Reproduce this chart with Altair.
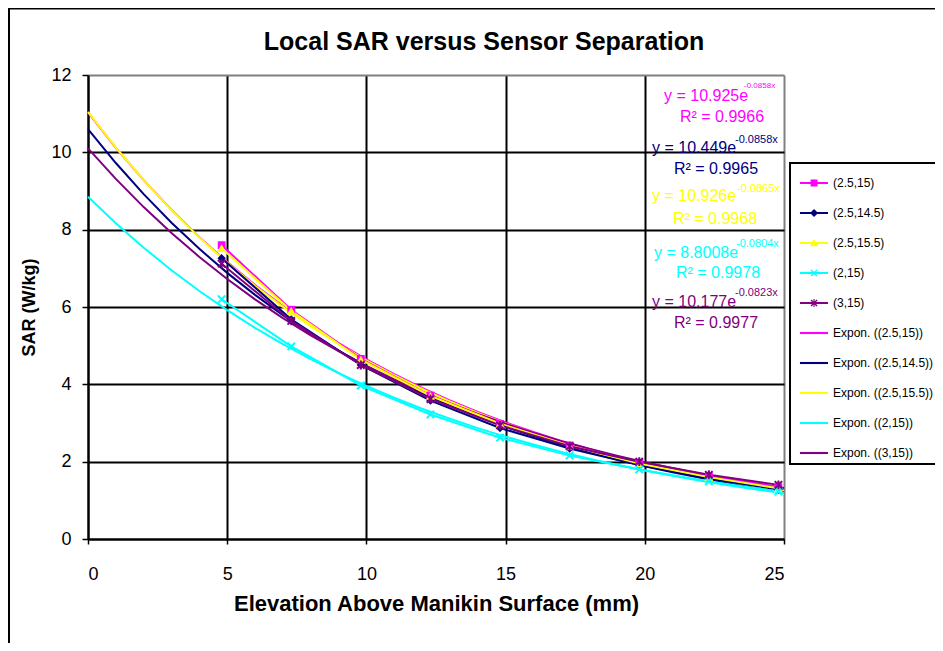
import altair as alt
import pandas as pd

# ---------------- data ----------------
x_mm = [4.8, 7.3, 9.8, 12.3, 14.8, 17.3, 19.8, 22.3, 24.8]
series_names = ["(2.5,15)", "(2.5,14.5)", "(2.5,15.5)", "(2,15)", "(3,15)"]
sar_2_5_15 = [7.60, 5.93, 4.66, 3.71, 2.98, 2.42, 1.97, 1.63, 1.34]
sar_2_5_14_5 = [7.26, 5.68, 4.50, 3.58, 2.87, 2.34, 1.91, 1.56, 1.28]
sar_2_5_15_5 = [7.52, 5.90, 4.64, 3.70, 2.98, 2.41, 1.95, 1.60, 1.31]
sar_2_15 = [6.20, 4.98, 3.97, 3.22, 2.62, 2.16, 1.80, 1.49, 1.23]
sar_3_15 = [7.12, 5.64, 4.50, 3.62, 2.94, 2.40, 2.00, 1.66, 1.40]
trend_names = ["Expon. ((2.5,15))", "Expon. ((2.5,14.5))", "Expon. ((2.5,15.5))",
               "Expon. ((2,15))", "Expon. ((3,15))"]
eq_coef = ["10.925", "10.449", "10.926", "8.8008", "10.177"]
eq_exp = ["-0.0858x", "-0.0858x", "-0.0865x", "-0.0804x", "-0.0823x"]
eq_r2 = ["0.9966", "0.9965", "0.9968", "0.9978", "0.9977"]
x_ticks = [0, 5, 10, 15, 20, 25]
y_ticks = [0, 2, 4, 6, 8, 10, 12]
title_text = "Local SAR versus Sensor Separation"
x_title = "Elevation Above Manikin Surface (mm)"
y_title = "SAR (W/kg)"

# ---------------- styles ----------------
colors = ["#FF00FF", "#000080", "#FFFF00", "#00FFFF", "#800080"]
FONT = "Liberation Sans"
W, H = 696, 464

all_series = [sar_2_5_15, sar_2_5_14_5, sar_2_5_15_5, sar_2_15, sar_3_15]
rows = []
for name, vals in zip(series_names, all_series):
    for xv, yv in zip(x_mm, vals):
        rows.append({"series": name, "x": xv, "sar": yv})
df = pd.DataFrame(rows)

legend_labels = series_names + trend_names
color_scale = alt.Scale(domain=legend_labels, range=colors + colors)

xscale = alt.Scale(domain=[0, 25], nice=False, zero=False)
yscale = alt.Scale(domain=[0, 12], nice=False)
xaxis = alt.Axis(values=x_ticks, title=x_title, labelFontSize=18, labelPadding=21,
                 tickSize=5, tickColor="black", tickWidth=1.5,
                 domainColor="black", domainWidth=2,
                 grid=True, gridWidth=2,
                 gridColor={"condition": {"test": "datum.value === 25", "value": "#808080"}, "value": "#000000"},
                 titleFontSize=22, titleFontWeight="bold", titlePadding=10,
                 labelColor="black", titleColor="black")
yaxis = alt.Axis(values=y_ticks, title=y_title, labelFontSize=18, labelPadding=11,
                 tickSize=6, tickColor="black", tickWidth=1.5,
                 domainColor="black", domainWidth=2,
                 grid=True, gridWidth=2,
                 gridColor={"condition": {"test": "datum.value === 12", "value": "#808080"}, "value": "#000000"},
                 titleFontSize=18, titleFontWeight="bold", titlePadding=12,
                 labelColor="black", titleColor="black")
xenc = alt.X("x:Q", scale=xscale, axis=xaxis)
yenc = alt.Y("sar:Q", scale=yscale, axis=yaxis)
cenc = alt.Color("series:N", scale=color_scale)

dummy = pd.DataFrame({"d": [0]})

frame = alt.Chart(dummy).mark_rect(fill=None, stroke="black", strokeWidth=2).encode(
    x=alt.value(-79), x2=alt.value(1000), y=alt.value(-66.5), y2=alt.value(800))

title = alt.Chart(dummy).mark_text(font=FONT, fontSize=25, fontWeight="bold", align="center",
                                   baseline="middle", color="black").encode(
    x=alt.value(396), y=alt.value(-33), text=alt.value(title_text))

# Excel-style exponential trendline: least squares on ln(SAR), then back-transformed
trend = (alt.Chart(df)
         .transform_calculate(lny="log(datum.sar)")
         .transform_regression("x", "lny", groupby=["series"], method="poly", order=1, extent=[0, 25])
         .transform_calculate(fit="exp(datum.lny)")
         .mark_line(strokeWidth=2)
         .encode(x=xenc, y=alt.Y("fit:Q", scale=yscale, axis=yaxis), color=cenc, detail="series:N"))

raw = alt.Chart(df).mark_line(strokeWidth=2).encode(x=xenc, y=yenc, color=cenc, detail="series:N")

marker_specs = [
    dict(shape="square", filled=True, size=60),
    dict(shape="diamond", filled=True, size=70),
    dict(shape="triangle-up", filled=True, size=80),
    dict(shape="M-1,-1L1,1M-1,1L1,-1", filled=False, size=55, strokeWidth=2),
    dict(shape="M-1,-1L1,1M-1,1L1,-1M0,-1.2L0,1.2", filled=False, size=55, strokeWidth=2),
]
point_layers = []
for name, spec in zip(series_names, marker_specs):
    point_layers.append(
        alt.Chart(df).transform_filter(alt.datum.series == name)
        .mark_point(opacity=1, **spec).encode(x=xenc, y=yenc, color=cenc))

# equation annotations (positions relative to plot area)
eq_pos = [  # (main x, main y, sup x, sup y, r2 x, r2 y, sup size)
    (576, 21, 656, 11, 592, 42, 8),
    (564, 73, 647, 65, 586, 94, 11),
    (564, 121, 649, 114, 585, 144, 11),
    (566, 178, 648, 169, 588, 198, 11),
    (564, 227, 647, 218, 586, 248, 11),
]
ann_layers = []
for i in range(5):
    mx, my, sx, sy, rx, ry, ss = eq_pos[i]
    ann_layers.append(alt.Chart(dummy).mark_text(font=FONT, fontSize=16, align="left", baseline="middle",
                                                 color=colors[i]).encode(
        x=alt.value(mx), y=alt.value(my), text=alt.value("y = " + eq_coef[i] + "e")))
    ann_layers.append(alt.Chart(dummy).mark_text(font=FONT, fontSize=ss, align="left", baseline="middle",
                                                 color=colors[i]).encode(
        x=alt.value(sx), y=alt.value(sy), text=alt.value(eq_exp[i])))
    ann_layers.append(alt.Chart(dummy).mark_text(font=FONT, fontSize=16, align="left", baseline="middle",
                                                 color=colors[i]).encode(
        x=alt.value(rx), y=alt.value(ry), text=alt.value("R\u00b2 = " + eq_r2[i])))

# legend symbols (unit = 15px)
LINE = "M-0.67,-0.07H1.2V0.07H-0.67Z"
sym_paths = [
    LINE + "M0.04,-0.23H0.5V0.23H0.04Z",
    LINE + "M0.27,-0.27L0.54,0L0.27,0.27L0,0Z",
    LINE + "M0.27,-0.27L0.54,0.22L0,0.22Z",
    LINE + "M0.105,-0.235L0.505,0.165L0.435,0.235L0.035,-0.165Z"
           "M0.035,0.165L0.435,-0.235L0.505,-0.165L0.105,0.235Z",
    LINE + "M0.105,-0.235L0.505,0.165L0.435,0.235L0.035,-0.165Z"
           "M0.035,0.165L0.435,-0.235L0.505,-0.165L0.105,0.235Z"
           "M0.235,-0.27H0.305V0.27H0.235Z",
] + [LINE] * 5

legend_df = pd.DataFrame({"series": legend_labels})
legend_layer = alt.Chart(legend_df).transform_filter("false").mark_point(filled=True, opacity=1).encode(
    color=alt.Color("series:N", scale=color_scale,
                    legend=alt.Legend(title=None, orient="none", legendX=702, legendY=88,
                                      symbolSize=900, rowPadding=9, padding=5,
                                      labelFontSize=12, labelFont=FONT, labelOffset=8,
                                      labelColor="black", labelLimit=300,
                                      strokeColor="black", fillColor="white",
                                      symbolStrokeWidth=0, symbolOpacity=1)),
    shape=alt.Shape("series:N", scale=alt.Scale(domain=legend_labels, range=sym_paths)),
)

chart = alt.layer(frame, legend_layer, title, trend, raw, *point_layers, *ann_layers).properties(
    width=W, height=H,
    autosize=alt.AutoSizeParams(type="none"),
    padding={"left": 80, "top": 67, "right": 151, "bottom": 104},
    background="white",
).configure(font=FONT).configure_view(stroke=None).configure_legend(strokeWidth=2)

chart.save("out.html", embed_options={"renderer": "svg", "actions": False})
